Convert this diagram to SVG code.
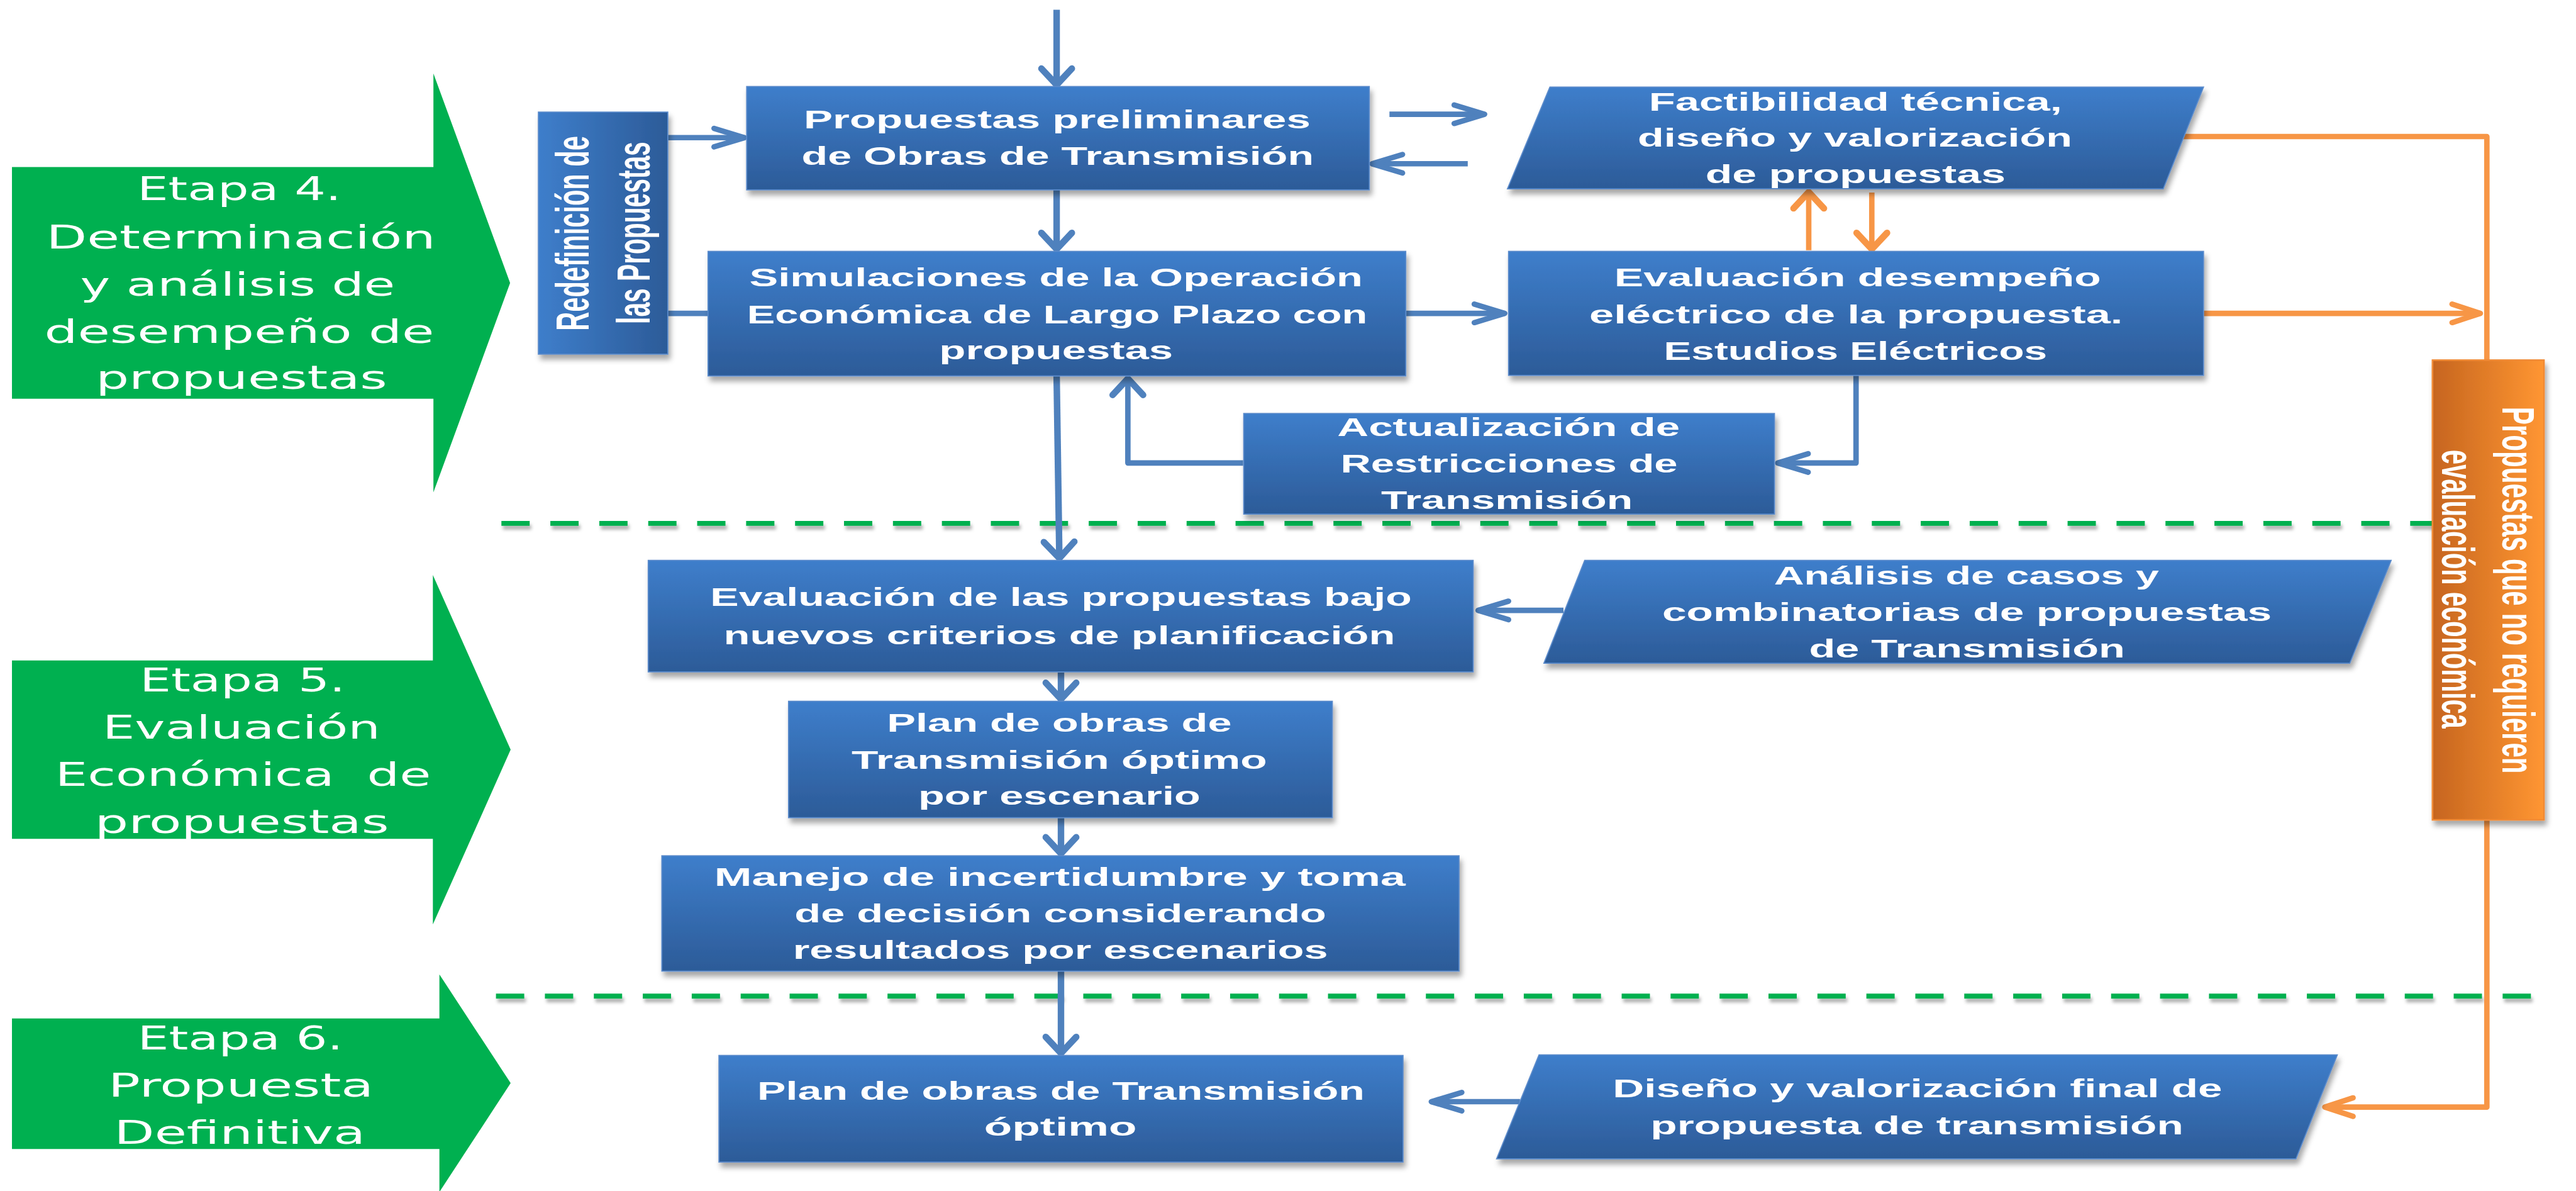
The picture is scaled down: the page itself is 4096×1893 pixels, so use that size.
<svg xmlns="http://www.w3.org/2000/svg" width="4096" height="1893" viewBox="0 0 4096 1893">
<defs>
<style>
.bt{font-family:"Liberation Sans",Arial,sans-serif;font-weight:bold;font-size:46px;fill:#fff;text-anchor:middle}
.et{font-family:"DejaVu Sans",Verdana,sans-serif;font-size:60px;fill:#fff;text-anchor:middle}
.ot{font-family:"Liberation Sans",Arial,sans-serif;font-weight:bold;font-size:48px;fill:#fff;text-anchor:middle}
.box{fill:url(#gb);stroke:#5A8ACB;stroke-width:2;filter:url(#sh)}
.stage{fill:#00B050}
.cb{fill:none;stroke:#4F81BD;stroke-width:10;stroke-linejoin:round}
.cv{stroke-width:12}
.co{fill:none;stroke:#F79646;stroke-width:10;stroke-linejoin:round}
.dash{fill:none;stroke:#00B050;stroke-width:9;stroke-dasharray:52 38;filter:url(#sh2)}
</style>
<linearGradient id="gb" x1="0" y1="0" x2="0" y2="1">
<stop offset="0" stop-color="#3E7ECB"/><stop offset="1" stop-color="#2C5B98"/>
</linearGradient>
<linearGradient id="gr" x1="0" y1="0" x2="1" y2="0">
<stop offset="0" stop-color="#3E7ECB"/><stop offset="1" stop-color="#2C5B98"/>
</linearGradient>
<linearGradient id="go" x1="0" y1="0" x2="1" y2="0">
<stop offset="0" stop-color="#C6651F"/><stop offset="1" stop-color="#FF9632"/>
</linearGradient>
<filter id="sh" x="-5%" y="-10%" width="115%" height="130%">
<feDropShadow dx="4" dy="9" stdDeviation="5" flood-color="#000" flood-opacity="0.35"/>
</filter>
<filter id="sh2" filterUnits="userSpaceOnUse" x="0" y="0" width="4737" height="2189">
<feDropShadow dx="3" dy="7" stdDeviation="3" flood-color="#000" flood-opacity="0.3"/>
</filter>
<marker id="hb" markerUnits="userSpaceOnUse" viewBox="-66 -26 74 52" markerWidth="74" markerHeight="52" refX="0" refY="0" orient="auto" overflow="visible">
<path d="M-56,-17 L0,0 L-56,17" fill="none" stroke="#4F81BD" stroke-width="10" stroke-linecap="round" stroke-linejoin="round"/>
</marker>
<marker id="vb" markerUnits="userSpaceOnUse" viewBox="-40 -36 48 72" markerWidth="48" markerHeight="72" refX="0" refY="0" orient="auto" overflow="visible">
<path d="M-30,-28 L0,0 L-30,28" fill="none" stroke="#4F81BD" stroke-width="12" stroke-linecap="round" stroke-linejoin="round"/>
</marker>
<marker id="ho" markerUnits="userSpaceOnUse" viewBox="-66 -26 74 52" markerWidth="74" markerHeight="52" refX="0" refY="0" orient="auto" overflow="visible">
<path d="M-52,-17 L0,0 L-52,17" fill="none" stroke="#F79646" stroke-width="10" stroke-linecap="round" stroke-linejoin="round"/>
</marker>
<marker id="vo" markerUnits="userSpaceOnUse" viewBox="-40 -36 48 72" markerWidth="48" markerHeight="72" refX="0" refY="0" orient="auto" overflow="visible">
<path d="M-30,-28 L0,0 L-30,28" fill="none" stroke="#F79646" stroke-width="12" stroke-linecap="round" stroke-linejoin="round"/>
</marker>
</defs>
<rect width="4096" height="1893" fill="#fff"/>
<g transform="scale(0.8647)">

<g id="etapa4">
<polygon class="stage" points="22,307 797,307 797,135 938,520 797,905 797,733 22,733"/>
<text class="et" x="440" y="368" textLength="375" lengthAdjust="spacingAndGlyphs">Etapa 4.</text>
<text class="et" x="443" y="457" textLength="716" lengthAdjust="spacingAndGlyphs">Determinación</text>
<text class="et" x="437" y="543" textLength="579" lengthAdjust="spacingAndGlyphs">y análisis de</text>
<text class="et" x="440" y="630" textLength="717" lengthAdjust="spacingAndGlyphs">desempeño de</text>
<text class="et" x="444" y="715" textLength="536" lengthAdjust="spacingAndGlyphs">propuestas</text>
</g>
<g id="etapa5">
<polygon class="stage" points="22,1214 796,1214 796,1057 939,1378 796,1699 796,1542 22,1542"/>
<text class="et" x="446" y="1271" textLength="378" lengthAdjust="spacingAndGlyphs">Etapa 5.</text>
<text class="et" x="444" y="1358" textLength="511" lengthAdjust="spacingAndGlyphs">Evaluación</text>
<text class="et" x="447" y="1444" textLength="691" lengthAdjust="spacingAndGlyphs" style="white-space:pre">Económica  de</text>
<text class="et" x="445" y="1531" textLength="541" lengthAdjust="spacingAndGlyphs">propuestas</text>
</g>
<g id="etapa6">
<polygon class="stage" points="22,1872 808,1872 808,1791 939,1991 808,2191 808,2112 22,2112"/>
<text class="et" x="442" y="1929" textLength="378" lengthAdjust="spacingAndGlyphs">Etapa 6.</text>
<text class="et" x="443" y="2016" textLength="488" lengthAdjust="spacingAndGlyphs">Propuesta</text>
<text class="et" x="441" y="2102" textLength="462" lengthAdjust="spacingAndGlyphs">Definitiva</text>
</g>

<g id="separadores">
<line class="dash" x1="922" y1="962" x2="4690" y2="962"/>
<line class="dash" x1="912" y1="1831" x2="4690" y2="1831"/>
</g>

<g id="conectores">
<line class="cb cv" x1="1943" y1="18" x2="1943" y2="156" marker-end="url(#vb)"/>
<line class="cb" x1="1228" y1="253" x2="1369" y2="253" marker-end="url(#hb)"/>
<line class="cb" x1="1228" y1="576" x2="1302" y2="576"/>
<line class="cb" x1="2555" y1="210" x2="2730" y2="210" marker-end="url(#hb)"/>
<line class="cb" x1="2699" y1="301" x2="2523" y2="301" marker-end="url(#hb)"/>
<line class="cb cv" x1="1943" y1="349" x2="1943" y2="458" marker-end="url(#vb)"/>
<line class="cb" x1="2585" y1="576" x2="2767" y2="576" marker-end="url(#hb)"/>
<polyline class="cb" points="3413,690 3413,851 3269,851" marker-end="url(#hb)"/>
<polyline class="cb" points="2286,851 2074,851 2074,696" marker-end="url(#vb)"/>
<line class="cb cv" x1="1943" y1="691" x2="1948" y2="1026" marker-end="url(#vb)"/>
<line class="cb" x1="2875" y1="1122" x2="2718" y2="1122" marker-end="url(#hb)"/>
<line class="cb cv" x1="1951" y1="1236" x2="1951" y2="1285" marker-end="url(#vb)"/>
<line class="cb cv" x1="1951" y1="1503" x2="1951" y2="1569" marker-end="url(#vb)"/>
<line class="cb cv" x1="1951" y1="1785" x2="1951" y2="1936" marker-end="url(#vb)"/>
<line class="cb" x1="2795" y1="2025" x2="2632" y2="2025" marker-end="url(#hb)"/>
<polyline class="co" points="4015,251 4573,251 4573,663"/>
<line class="co cv" x1="3326" y1="460" x2="3326" y2="353" marker-end="url(#vo)"/>
<line class="co cv" x1="3442" y1="354" x2="3442" y2="458" marker-end="url(#vo)"/>
<line class="co" x1="4052" y1="576" x2="4561" y2="576" marker-end="url(#ho)"/>
<polyline class="co" points="4573,1507 4573,2035 4275,2035" marker-end="url(#ho)"/>
</g>

<g id="propuestas-preliminares">
<rect class="box" x="1373" y="159" width="1145" height="190"/>
<text class="bt" x="1944" y="236" textLength="932" lengthAdjust="spacingAndGlyphs">Propuestas preliminares</text>
<text class="bt" x="1945" y="303" textLength="942" lengthAdjust="spacingAndGlyphs">de Obras de Transmisión</text>
</g>
<g id="redefinicion">
<rect class="box" x="990" y="206" width="238" height="445" style="fill:url(#gr)"/>
<text class="bt" transform="translate(1083,429) rotate(-90) scale(1,1.8)" x="0" y="0" style="font-size:48px" textLength="358" lengthAdjust="spacingAndGlyphs">Redefinición de</text>
<text class="bt" transform="translate(1195,428) rotate(-90) scale(1,1.8)" x="0" y="0" style="font-size:48px" textLength="335" lengthAdjust="spacingAndGlyphs">las Propuestas</text>
</g>
<g id="simulaciones">
<rect class="box" x="1302" y="462" width="1283" height="229"/>
<text class="bt" x="1942" y="526" textLength="1128" lengthAdjust="spacingAndGlyphs">Simulaciones de la Operación</text>
<text class="bt" x="1944" y="594" textLength="1141" lengthAdjust="spacingAndGlyphs">Económica de Largo Plazo con</text>
<text class="bt" x="1942" y="660" textLength="430" lengthAdjust="spacingAndGlyphs">propuestas</text>
</g>
<g id="factibilidad">
<polygon class="box" points="2850,160 4052,160 3978,347 2772,347"/>
<text class="bt" x="3412" y="203" textLength="760" lengthAdjust="spacingAndGlyphs">Factibilidad técnica,</text>
<text class="bt" x="3411" y="270" textLength="799" lengthAdjust="spacingAndGlyphs">diseño y valorización</text>
<text class="bt" x="3412" y="336" textLength="552" lengthAdjust="spacingAndGlyphs">de propuestas</text>
</g>
<g id="evaluacion-desempeno">
<rect class="box" x="2774" y="462" width="1278" height="228"/>
<text class="bt" x="3416" y="526" textLength="895" lengthAdjust="spacingAndGlyphs">Evaluación desempeño</text>
<text class="bt" x="3413" y="594" textLength="981" lengthAdjust="spacingAndGlyphs">eléctrico de la propuesta.</text>
<text class="bt" x="3412" y="662" textLength="705" lengthAdjust="spacingAndGlyphs">Estudios Eléctricos</text>
</g>
<g id="actualizacion">
<rect class="box" x="2287" y="760" width="976" height="185"/>
<text class="bt" x="2774" y="802" textLength="630" lengthAdjust="spacingAndGlyphs">Actualización de</text>
<text class="bt" x="2775" y="869" textLength="620" lengthAdjust="spacingAndGlyphs">Restricciones de</text>
<text class="bt" x="2771" y="936" textLength="463" lengthAdjust="spacingAndGlyphs">Transmisión</text>
</g>
<g id="no-requieren">
<rect x="4473" y="662" width="205" height="845" fill="url(#go)" stroke="#F08A35" stroke-width="3" filter="url(#sh)"/>
<text class="ot" transform="translate(4602,1085) rotate(90) scale(1,1.75)" x="0" y="0" textLength="674" lengthAdjust="spacingAndGlyphs">Propuestas que no requieren</text>
<text class="ot" transform="translate(4490,1083) rotate(90) scale(1,1.75)" x="0" y="0" textLength="512" lengthAdjust="spacingAndGlyphs">evaluación económica</text>
</g>
<g id="evaluacion-criterios">
<rect class="box" x="1192" y="1030" width="1517" height="205"/>
<text class="bt" x="1951" y="1114" textLength="1290" lengthAdjust="spacingAndGlyphs">Evaluación de las propuestas bajo</text>
<text class="bt" x="1948" y="1184" textLength="1235" lengthAdjust="spacingAndGlyphs">nuevos criterios de planificación</text>
</g>
<g id="analisis-casos">
<polygon class="box" points="2914,1030 4397,1030 4321,1219 2839,1219"/>
<text class="bt" x="3616" y="1074" textLength="708" lengthAdjust="spacingAndGlyphs">Análisis de casos y</text>
<text class="bt" x="3617" y="1141" textLength="1121" lengthAdjust="spacingAndGlyphs">combinatorias de propuestas</text>
<text class="bt" x="3617" y="1209" textLength="581" lengthAdjust="spacingAndGlyphs">de Transmisión</text>
</g>
<g id="plan-escenario">
<rect class="box" x="1450" y="1289" width="1000" height="214"/>
<text class="bt" x="1948" y="1345" textLength="634" lengthAdjust="spacingAndGlyphs">Plan de obras de</text>
<text class="bt" x="1948" y="1413" textLength="764" lengthAdjust="spacingAndGlyphs">Transmisión óptimo</text>
<text class="bt" x="1948" y="1479" textLength="519" lengthAdjust="spacingAndGlyphs">por escenario</text>
</g>
<g id="manejo">
<rect class="box" x="1217" y="1573" width="1466" height="212"/>
<text class="bt" x="1949" y="1628" textLength="1271" lengthAdjust="spacingAndGlyphs">Manejo de incertidumbre y toma</text>
<text class="bt" x="1950" y="1695" textLength="978" lengthAdjust="spacingAndGlyphs">de decisión considerando</text>
<text class="bt" x="1950" y="1763" textLength="984" lengthAdjust="spacingAndGlyphs">resultados por escenarios</text>
</g>
<g id="plan-final">
<rect class="box" x="1322" y="1940" width="1258" height="196"/>
<text class="bt" x="1951" y="2022" textLength="1117" lengthAdjust="spacingAndGlyphs">Plan de obras de Transmisión</text>
<text class="bt" x="1950" y="2088" textLength="281" lengthAdjust="spacingAndGlyphs">óptimo</text>
</g>
<g id="diseno-final">
<polygon class="box" points="2830,1939 4298,1939 4222,2130 2752,2130"/>
<text class="bt" x="3526" y="2017" textLength="1121" lengthAdjust="spacingAndGlyphs">Diseño y valorización final de</text>
<text class="bt" x="3525" y="2085" textLength="980" lengthAdjust="spacingAndGlyphs">propuesta de transmisión</text>
</g>
</g>
</svg>
